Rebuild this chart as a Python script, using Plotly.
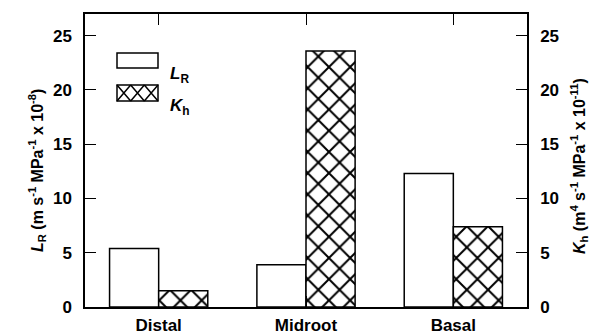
import plotly.graph_objects as go

# Root segments and measured values
segments = ["Distal", "Midroot", "Basal"]
lr_values = [5.4, 3.9, 12.3]    # L_R (m s^-1 MPa^-1 x 10^-8)
kh_values = [1.5, 23.6, 7.4]    # K_h (m^4 s^-1 MPa^-1 x 10^-11)
y_ticks = [0, 5, 10, 15, 20, 25]

W, H = 603, 334
ML, MR, MT, MB = 85, 76, 14, 27
PW, PH = W - ML - MR, H - MT - MB

FONT = "Liberation Sans"
HATCH = dict(shape="x", size=15, solidity=0.25, fgcolor="black",
             bgcolor="white", fgopacity=1)


def px_x(p):
    return (p - ML) / PW


def px_y(p):
    return (H - MB - p) / PH


fig = go.Figure()
fig.add_trace(go.Bar(
    x=segments, y=lr_values, name="L_R", yaxis="y",
    width=1 / 3, offset=-1 / 3,
    marker=dict(color="white", line=dict(color="black", width=1.5)),
))
fig.add_trace(go.Bar(
    x=segments, y=kh_values, name="K_h", yaxis="y2",
    width=1 / 3, offset=0,
    marker=dict(color="white", pattern=HATCH, line=dict(color="black", width=1.5)),
))

axis_common = dict(
    range=[0, 27], tickvals=y_ticks, ticks="inside", ticklen=11, tickwidth=1.3,
    tickcolor="black", showline=True, linecolor="black", linewidth=1.5,
    showgrid=False, zeroline=False, ticklabelstandoff=8, automargin=False,
    tickfont=dict(family=FONT, size=17, color="black", weight="bold"),
)

fig.update_layout(
    width=W, height=H,
    margin=dict(l=ML, r=MR, t=MT, b=MB, pad=0, autoexpand=False),
    paper_bgcolor="white", plot_bgcolor="white",
    showlegend=False, barmode="overlay",
    xaxis=dict(
        ticks="inside", ticklen=11, tickwidth=1.3, tickcolor="black",
        showline=True, mirror="ticks", linecolor="black", linewidth=1.5,
        ticklabelstandoff=2, automargin=False,
        tickfont=dict(family=FONT, size=17, color="black", weight="bold"),
    ),
    yaxis=dict(**axis_common),
    yaxis2=dict(**axis_common, overlaying="y", side="right"),
)

# Axis titles
title_font = dict(family=FONT, size=16, color="black", weight="bold")
fig.add_annotation(
    xref="paper", yref="paper", x=px_x(24), y=px_y(171), showarrow=False,
    textangle=-90, font=title_font,
    text="<i>L</i><sub>R</sub> (m s<sup>-1</sup> MPa<sup>-1</sup> x 10<sup>-8</sup>)",
)
fig.add_annotation(
    xref="paper", yref="paper", x=px_x(592), y=px_y(166), showarrow=False,
    textangle=-90, font=title_font,
    text="<i>K</i><sub>h</sub> (m<sup>4</sup> s<sup>-1</sup> MPa<sup>-1</sup> x 10<sup>-11</sup>)",
)

# Legend swatches
sx0, sx1 = 117, 158
for (y0, y1) in [(53, 68), (85, 101)]:
    fig.add_shape(type="rect", xref="paper", yref="paper",
                  x0=px_x(sx0), x1=px_x(sx1), y0=px_y(y1), y1=px_y(y0),
                  line=dict(color="black", width=1.5), fillcolor="white")

# Cross-hatch inside the K_h swatch
hy0, hy1 = 85, 101
cells = 3
cw = (sx1 - sx0) / cells
path = ""
for i in range(cells):
    a, b = sx0 + i * cw, sx0 + (i + 1) * cw
    path += f"M{px_x(a)},{px_y(hy0)} L{px_x(b)},{px_y(hy1)} "
    path += f"M{px_x(a)},{px_y(hy1)} L{px_x(b)},{px_y(hy0)} "
fig.add_shape(type="path", xref="paper", yref="paper", path=path,
              line=dict(color="black", width=1.5))

legend_font = dict(family=FONT, size=17, color="black", weight="bold")
fig.add_annotation(xref="paper", yref="paper", x=px_x(168), y=px_y(62),
                   xanchor="left", showarrow=False, font=legend_font,
                   text="<i>L</i><sub>R</sub>")
fig.add_annotation(xref="paper", yref="paper", x=px_x(168), y=px_y(94),
                   xanchor="left", showarrow=False, font=legend_font,
                   text="<i>K</i><sub>h</sub>")

fig.write_html("out.html")
